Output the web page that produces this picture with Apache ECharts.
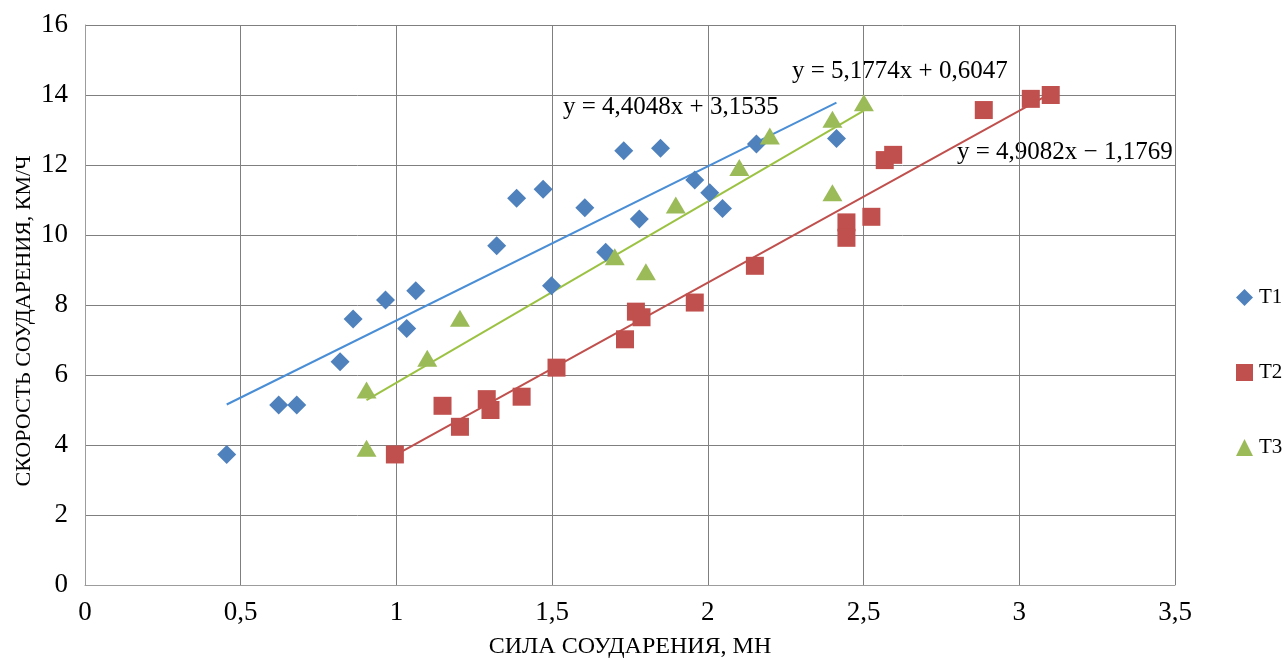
<!DOCTYPE html>
<html>
<head>
<meta charset="utf-8">
<script src="https://cdn.jsdelivr.net/npm/echarts@6/dist/echarts.min.js"></script>
<style>
html,body{margin:0;padding:0;background:#fff;}
#chart{width:1283px;height:658px;}
</style>
</head>
<body>
<div id="chart"></div>
<script>
// ---- data ----
var t1X = [0.455, 0.622, 0.680, 0.819, 0.861, 0.965, 1.033, 1.062, 1.322, 1.386, 1.471, 1.498, 1.605, 1.672, 1.730, 1.780, 1.848, 1.958, 2.006, 2.047, 2.156, 2.413];
var t1Y = [3.73, 5.14, 5.14, 6.38, 7.60, 8.14, 7.33, 8.41, 9.69, 11.05, 11.31, 8.55, 10.78, 9.51, 12.41, 10.46, 12.48, 11.57, 11.21, 10.76, 12.60, 12.76];
var t2X = [0.995, 1.148, 1.204, 1.290, 1.302, 1.402, 1.514, 1.734, 1.769, 1.787, 1.958, 2.151, 2.445, 2.445, 2.525, 2.568, 2.595, 2.886, 3.037, 3.101];
var t2Y = [3.73, 5.12, 4.52, 5.31, 5.00, 5.38, 6.21, 7.02, 7.81, 7.65, 8.07, 9.12, 10.36, 9.92, 10.52, 12.14, 12.29, 13.57, 13.89, 14.00];
var t3X = [0.904, 0.904, 1.099, 1.204, 1.701, 1.801, 1.897, 2.101, 2.199, 2.400, 2.400, 2.501];
var t3Y = [5.57, 3.91, 6.48, 7.62, 9.38, 8.95, 10.86, 11.93, 12.83, 13.31, 11.21, 13.78];
var seriesNames = ['T1', 'T2', 'T3'];
var slopes = [4.4048, 4.9082, 5.1774];
var intercepts = [3.1535, -1.1769, 0.6047];
var equationTexts = ['y = 4,4048x + 3,1535', 'y = 4,9082x \u2212 1,1769', 'y = 5,1774x + 0,6047'];
var xTicks = [0, 0.5, 1, 1.5, 2, 2.5, 3, 3.5];
var yTicks = [0, 2, 4, 6, 8, 10, 12, 14, 16];
var xTitle = 'СИЛА СОУДАРЕНИЯ, МН';
var yTitle = 'СКОРОСТЬ СОУДАРЕНИЯ, КМ/Ч';

// ---- build ----
var FONT = "'Liberation Serif', 'DejaVu Serif', serif";
var markerColors = ['#4F81BD', '#C0504D', '#9BBB59'];
var trendColors = ['#4A8ED6', '#C0504D', '#9CC243'];
var symbols = ['diamond', 'rect', 'triangle'];
var symbolSizes = [[19, 19], [18, 18], [20, 17]];
var xs = [t1X, t2X, t3X], ys = [t1Y, t2Y, t3Y];

function pairs(a, b) { return a.map(function (v, i) { return [v, b[i]]; }); }
function trend(i) {
  var mn = Math.min.apply(null, xs[i]), mx = Math.max.apply(null, xs[i]);
  return [[mn, slopes[i] * mn + intercepts[i]], [mx, slopes[i] * mx + intercepts[i]]];
}

var series = [];
for (var i = 0; i < 3; i++) {
  series.push({
    name: seriesNames[i] + ' trend', type: 'line', data: trend(i),
    symbol: 'none', lineStyle: { color: trendColors[i], width: 2 },
    silent: true, z: 2, animation: false
  });
}
for (var j = 0; j < 3; j++) {
  series.push({
    name: seriesNames[j], type: 'scatter', data: pairs(xs[j], ys[j]),
    symbol: symbols[j], symbolSize: symbolSizes[j],
    itemStyle: { color: markerColors[j], opacity: 1 }, z: 3, animation: false
  });
}

var chart = echarts.init(document.getElementById('chart'), null, { renderer: 'canvas' });
chart.setOption({
  backgroundColor: '#ffffff',
  animation: false,
  grid: { left: 85, right: 108, top: 25, bottom: 73, containLabel: false },
  xAxis: {
    type: 'value', min: xTicks[0], max: xTicks[xTicks.length - 1], interval: xTicks[1] - xTicks[0],
    axisLine: { show: true, lineStyle: { color: '#9C9C9C', width: 1 } },
    axisTick: { show: false },
    splitLine: { show: true, lineStyle: { color: '#7F7F7F', width: 1 } },
    axisLabel: {
      margin: 14, color: '#000', fontFamily: FONT, fontSize: 27,
      formatter: function (v) { return String(v).replace('.', ','); }
    }
  },
  yAxis: {
    type: 'value', min: yTicks[0], max: yTicks[yTicks.length - 1], interval: yTicks[1] - yTicks[0],
    axisLine: { show: true, lineStyle: { color: '#9C9C9C', width: 1 } },
    axisTick: { show: false },
    splitLine: { show: true, lineStyle: { color: '#7F7F7F', width: 1 } },
    axisLabel: { margin: 17, color: '#000', fontFamily: FONT, fontSize: 27 }
  },
  legend: {
    data: seriesNames, orient: 'vertical', left: 1231, top: 282,
    itemWidth: 17, itemHeight: 17, itemGap: 54,
    textStyle: { fontFamily: FONT, fontSize: 21, lineHeight: 17, color: '#000', padding: [0, 0, 0, 1] }
  },
  graphic: [
    { type: 'text', x: 563, y: 107, silent: true,
      style: { text: equationTexts[0], font: '25px ' + FONT, fill: '#000', align: 'left', verticalAlign: 'middle' } },
    { type: 'text', x: 957, y: 152, silent: true,
      style: { text: equationTexts[1], font: '25px ' + FONT, fill: '#000', align: 'left', verticalAlign: 'middle' } },
    { type: 'text', x: 792, y: 71, silent: true,
      style: { text: equationTexts[2], font: '25px ' + FONT, fill: '#000', align: 'left', verticalAlign: 'middle' } },
    { type: 'text', x: 630, y: 647, silent: true,
      style: { text: xTitle, font: '24px ' + FONT, fill: '#000', align: 'center', verticalAlign: 'middle' } },
    { type: 'text', x: 24, y: 321, rotation: Math.PI / 2, silent: true,
      style: { text: yTitle, font: '22px ' + FONT, fill: '#000', align: 'center', verticalAlign: 'middle' } }
  ],
  series: series
});
</script>
</body>
</html>
